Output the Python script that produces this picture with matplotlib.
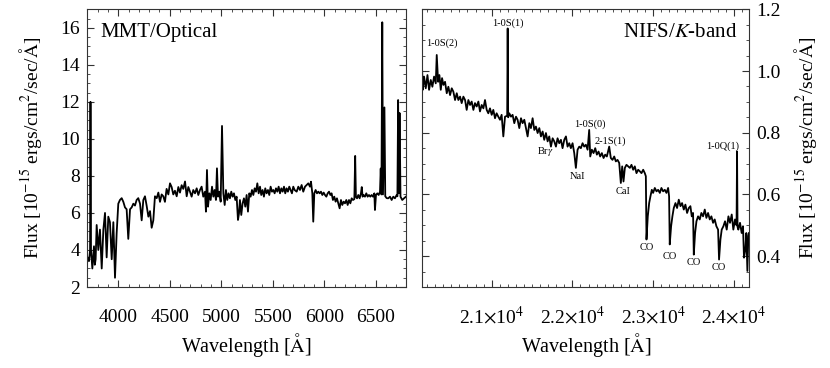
import matplotlib
matplotlib.use("Agg")
import matplotlib.pyplot as plt
from matplotlib.ticker import MultipleLocator, FuncFormatter

plt.rcParams['font.family'] = ['Liberation Serif', 'DejaVu Serif']
plt.rcParams['mathtext.fontset'] = 'stix'

# MMT optical spectrum (Angstrom, 1e-15 erg/cm2/s/A)
opt_wave = [3697, 3703, 3716, 3726, 3730, 3735, 3748, 3764, 3772, 3780, 3790, 3806, 3822, 3839,
            3855, 3871, 3887, 3903, 3919, 3936, 3952, 3968, 3984, 4000, 4016, 4033, 4049, 4065,
            4081, 4097, 4114, 4130, 4146, 4162, 4178, 4194, 4211, 4227, 4243, 4259, 4275, 4292,
            4308, 4324, 4340, 4356, 4373, 4389, 4405, 4421, 4437, 4453, 4469, 4486, 4502, 4518,
            4534, 4550, 4567, 4583, 4599, 4615, 4631, 4648, 4664, 4680, 4696, 4712, 4728, 4745,
            4761, 4777, 4793, 4809, 4825, 4842, 4851, 4861, 4871, 4884, 4897, 4910, 4923, 4935,
            4948, 4958, 4968, 4981, 4994, 5007, 5020, 5033, 5045, 5058, 5071, 5084, 5097, 5110,
            5123, 5136, 5149, 5162, 5172, 5181, 5194, 5207, 5220, 5233, 5246, 5259, 5272, 5285,
            5298, 5311, 5324, 5337, 5350, 5363, 5376, 5388, 5401, 5414, 5427, 5440, 5453, 5466,
            5479, 5492, 5505, 5518, 5531, 5544, 5557, 5570, 5583, 5596, 5609, 5621, 5634, 5647,
            5660, 5673, 5686, 5699, 5712, 5732, 5748, 5764, 5780, 5796, 5813, 5829, 5845, 5861,
            5871, 5884, 5893, 5903, 5916, 5929, 5942, 5955, 5968, 5981, 5994, 6007, 6020, 6033,
            6046, 6059, 6071, 6084, 6097, 6110, 6123, 6136, 6149, 6162, 6175, 6188, 6201, 6214,
            6227, 6240, 6253, 6266, 6279, 6292, 6300, 6307, 6318, 6330, 6343, 6356, 6364, 6372,
            6382, 6395, 6408, 6421, 6434, 6447, 6460, 6473, 6486, 6492, 6502, 6515, 6528, 6541,
            6548, 6555, 6563, 6570, 6584, 6592, 6606, 6621, 6638, 6654, 6670, 6686, 6703, 6710,
            6717, 6723, 6731, 6740, 6757, 6774, 6793]
opt_flux = [3.3, 3.6, 3.4, 4.0, 12.0, 4.0, 3.0, 4.2, 3.2, 3.5, 5.35, 4.0, 5.1, 3.0,
            5.1, 6.0, 3.6, 5.8, 5.5, 3.5, 5.5, 2.5, 4.9, 6.5, 6.7, 6.8, 6.6, 6.3,
            6.2, 4.6, 6.2, 6.3, 6.5, 6.4, 6.7, 6.8, 6.5, 5.6, 6.7, 6.9, 6.4, 5.8,
            6.1, 5.2, 5.6, 6.9, 6.8, 7.1, 6.6, 7.0, 6.9, 6.6, 7.3, 7.0, 7.6, 7.4,
            7.0, 7.2, 6.9, 7.4, 7.1, 7.5, 7.3, 7.7, 6.9, 7.4, 7.15, 6.88, 7.24, 7.06,
            7.33, 6.97, 7.24, 7.42, 6.88, 7.15, 6.07, 8.32, 6.34, 7.06, 6.70, 7.42, 6.88, 7.24,
            6.70, 8.41, 6.88, 7.15, 6.61, 10.7, 7.06, 6.43, 7.24, 6.70, 7.06, 6.79, 7.15, 6.88,
            7.06, 6.70, 6.88, 5.62, 5.98, 6.70, 5.89, 6.52, 6.79, 6.34, 6.97, 6.07, 7.06, 6.88,
            7.24, 6.97, 7.33, 7.15, 7.60, 7.06, 7.42, 6.97, 7.24, 6.88, 7.33, 7.06, 7.24, 6.97,
            7.42, 7.15, 7.24, 7.06, 7.33, 7.15, 7.42, 7.06, 7.33, 7.15, 7.42, 7.06, 7.33, 7.15,
            7.42, 7.24, 7.06, 7.42, 7.24, 7.15, 7.42, 7.24, 7.51, 7.15, 7.42, 7.51, 7.60, 7.42,
            7.69, 7.06, 5.53, 7.06, 7.24, 7.06, 7.15, 7.06, 7.15, 6.97, 7.10, 6.97, 6.88, 7.06,
            7.15, 6.97, 7.06, 6.70, 6.88, 6.61, 6.79, 6.52, 6.25, 6.70, 6.43, 6.61, 6.52, 6.70,
            6.43, 6.70, 6.52, 6.79, 6.70, 6.75, 9.08, 6.88, 6.79, 6.97, 6.79, 7.06, 7.4, 6.88,
            6.97, 6.88, 7.06, 6.88, 6.97, 6.88, 6.97, 6.88, 7.06, 6.16, 6.97, 7.06, 6.97, 7.15,
            8.4, 7.0, 16.3, 7.0, 11.7, 6.9, 6.8, 6.79, 6.88, 6.70, 6.88, 6.79, 6.97, 6.9,
            12.1, 7.06, 11.4, 6.88, 6.70, 6.79, 6.88]

# NIFS K-band spectrum
nir_wave = [20133, 20146, 20162, 20183, 20204, 20224, 20245, 20265, 20286, 20307, 20319, 20336,
            20352, 20369, 20385, 20402, 20422, 20443, 20463, 20484, 20505, 20525, 20546, 20567,
            20587, 20608, 20628, 20649, 20670, 20690, 20711, 20732, 20752, 20773, 20793, 20814,
            20835, 20855, 20876, 20897, 20917, 20938, 20958, 20979, 21000, 21020, 21041, 21061,
            21082, 21103, 21123, 21144, 21165, 21192, 21198, 21204, 21218, 21239, 21259, 21280,
            21301, 21321, 21342, 21363, 21383, 21404, 21425, 21445, 21466, 21486, 21507, 21528,
            21548, 21569, 21590, 21610, 21631, 21651, 21672, 21693, 21713, 21734, 21755, 21775,
            21796, 21816, 21837, 21858, 21878, 21899, 21920, 21940, 21961, 21981, 22002, 22023,
            22043, 22064, 22085, 22105, 22126, 22146, 22167, 22188, 22208, 22221, 22241, 22262,
            22283, 22303, 22324, 22344, 22365, 22386, 22406, 22427, 22456, 22476, 22497, 22518,
            22538, 22559, 22580, 22600, 22617, 22633, 22650, 22670, 22691, 22712, 22732, 22753,
            22773, 22794, 22815, 22835, 22856, 22877, 22897, 22910, 22918, 22934, 22951, 22967,
            22984, 23000, 23021, 23042, 23062, 23083, 23103, 23124, 23145, 23165, 23186, 23198,
            23206, 23223, 23239, 23256, 23277, 23297, 23318, 23339, 23359, 23380, 23400, 23421,
            23442, 23462, 23479, 23495, 23504, 23520, 23537, 23557, 23578, 23598, 23619, 23640,
            23660, 23681, 23702, 23722, 23743, 23763, 23784, 23805, 23817, 23834, 23850, 23871,
            23891, 23912, 23933, 23953, 23974, 23994, 24015, 24034, 24040, 24046, 24056, 24077,
            24097, 24114, 24126, 24143, 24155, 24168, 24180, 24188]
nir_flux = [1.041, 0.939, 0.982, 0.944, 0.987, 0.939, 0.971, 0.949, 0.982, 0.960, 1.052, 0.965,
            0.987, 0.939, 0.977, 0.955, 0.965, 0.928, 0.949, 0.922, 0.944, 0.933, 0.906, 0.928,
            0.906, 0.917, 0.896, 0.917, 0.906, 0.874, 0.906, 0.890, 0.901, 0.874, 0.896, 0.885,
            0.901, 0.869, 0.890, 0.879, 0.906, 0.874, 0.863, 0.879, 0.858, 0.874, 0.847, 0.863,
            0.852, 0.842, 0.858, 0.788, 0.852, 0.855, 1.138, 0.850, 0.863, 0.852, 0.858, 0.831,
            0.852, 0.842, 0.815, 0.847, 0.831, 0.842, 0.815, 0.788, 0.831, 0.815, 0.847, 0.809,
            0.820, 0.799, 0.815, 0.788, 0.804, 0.777, 0.799, 0.772, 0.788, 0.755, 0.782, 0.772,
            0.755, 0.782, 0.766, 0.777, 0.750, 0.777, 0.788, 0.755, 0.766, 0.750, 0.766, 0.734,
            0.686, 0.745, 0.755, 0.750, 0.766, 0.755, 0.761, 0.745, 0.809, 0.723, 0.745, 0.734,
            0.750, 0.729, 0.739, 0.723, 0.734, 0.718, 0.729, 0.723, 0.755, 0.718, 0.712, 0.723,
            0.707, 0.712, 0.702, 0.637, 0.691, 0.642, 0.686, 0.696, 0.691, 0.686, 0.696, 0.680,
            0.691, 0.669, 0.680, 0.675, 0.669, 0.680, 0.669, 0.659, 0.454, 0.529, 0.572, 0.594,
            0.615, 0.605, 0.621, 0.610, 0.615, 0.605, 0.621, 0.610, 0.615, 0.605, 0.621, 0.594,
            0.438, 0.497, 0.529, 0.556, 0.572, 0.556, 0.583, 0.562, 0.572, 0.551, 0.567, 0.540,
            0.556, 0.562, 0.529, 0.540, 0.405, 0.475, 0.513, 0.529, 0.519, 0.540, 0.529, 0.551,
            0.524, 0.540, 0.519, 0.529, 0.508, 0.519, 0.497, 0.486, 0.389, 0.454, 0.486, 0.497,
            0.513, 0.486, 0.529, 0.508, 0.535, 0.486, 0.519, 0.500, 0.739, 0.495, 0.486, 0.508,
            0.475, 0.497, 0.395, 0.422, 0.475, 0.352, 0.465, 0.475]

# line identifications (label, wavelength, flux position)
line_names = ['1-0S(2)', '1-0S(1)', r'Br$\gamma$', 'NaI', '1-0S(0)', '2-1S(1)', 'CaI',
              'CO', 'CO', 'CO', 'CO', '1-0Q(1)']
line_x = [20381, 21198, 21660, 22064, 22217, 22464, 22629, 22918, 23207, 23504, 23817, 23866]
line_y = [1.09, 1.156, 0.739, 0.658, 0.829, 0.772, 0.608, 0.427, 0.398, 0.379, 0.362, 0.755]

ylab = r'Flux [10$^{-15}$ ergs/cm$^2$/sec/$\mathrm{\AA}$]'
xlab = r'Wavelength [$\mathrm{\AA}$]'

fig = plt.figure(figsize=(8.3, 3.68), dpi=100)
ax1 = fig.add_axes([0.1048, 0.2201, 0.3843, 0.7546])
ax2 = fig.add_axes([0.5081, 0.2201, 0.3943, 0.7546])

for ax in (ax1, ax2):
    ax.tick_params(which='both', direction='in', top=True, right=True, labelsize=14,
                   color='#333333')
    ax.tick_params(which='major', length=5)
    ax.tick_params(which='minor', length=2.5)
    for s in ax.spines.values():
        s.set_linewidth(0.8)
        s.set_color('#333333')

# left: optical
ax1.plot(opt_wave, opt_flux, color='black', lw=1.3)
ax1.set_xlim(3696, 6793)
ax1.set_ylim(2, 17)
ax1.xaxis.set_major_locator(MultipleLocator(500))
ax1.xaxis.set_minor_locator(MultipleLocator(100))
ax1.yaxis.set_major_locator(MultipleLocator(2))
ax1.yaxis.set_minor_locator(MultipleLocator(0.5))
ax1.tick_params(axis='y', pad=5)
ax1.tick_params(axis='x', pad=16)
ax1.set_ylabel(ylab, fontsize=14)
ax1.yaxis.set_label_coords(-0.135, 0.5)
ax1.set_xlabel(xlab, fontsize=14.5)
ax1.xaxis.set_label_coords(0.5, -0.16)
ax1.text(0.041, 0.899, 'MMT/Optical', transform=ax1.transAxes, fontsize=15, va='baseline')

# right: K band
ax2.plot(nir_wave, nir_flux, color='black', lw=1.3)
ax2.set_xlim(20133, 24188)
ax2.set_ylim(0.3, 1.2)
ax2.xaxis.set_major_locator(MultipleLocator(1000))
ax2.xaxis.set_minor_locator(MultipleLocator(100))
ax2.xaxis.set_major_formatter(FuncFormatter(lambda v, p: '%.1f$\\times$10$^{4}$' % (v / 1e4)))
ax2.yaxis.set_major_locator(MultipleLocator(0.2))
ax2.yaxis.set_minor_locator(MultipleLocator(0.05))
ax2.yaxis.set_major_formatter(FuncFormatter(lambda v, p: '%.1f' % v))
ax2.tick_params(axis='y', labelleft=False, labelright=True, pad=5)
ax2.tick_params(axis='x', pad=13)
ax2.yaxis.set_label_position('right')
ax2.set_ylabel(ylab, fontsize=14)
ax2.yaxis.set_label_coords(1.131, 0.5)
ax2.set_xlabel(xlab, fontsize=14.5)
ax2.xaxis.set_label_coords(0.504, -0.16)
ax2.text(0.963, 0.899, 'NIFS/$K$-band', transform=ax2.transAxes, fontsize=15,
         va='baseline', ha='right')
for name, x, y in zip(line_names, line_x, line_y):
    ax2.text(x, y, name, fontsize=7.5, ha='center', va='center')

fig.savefig('out.png', dpi=100)
